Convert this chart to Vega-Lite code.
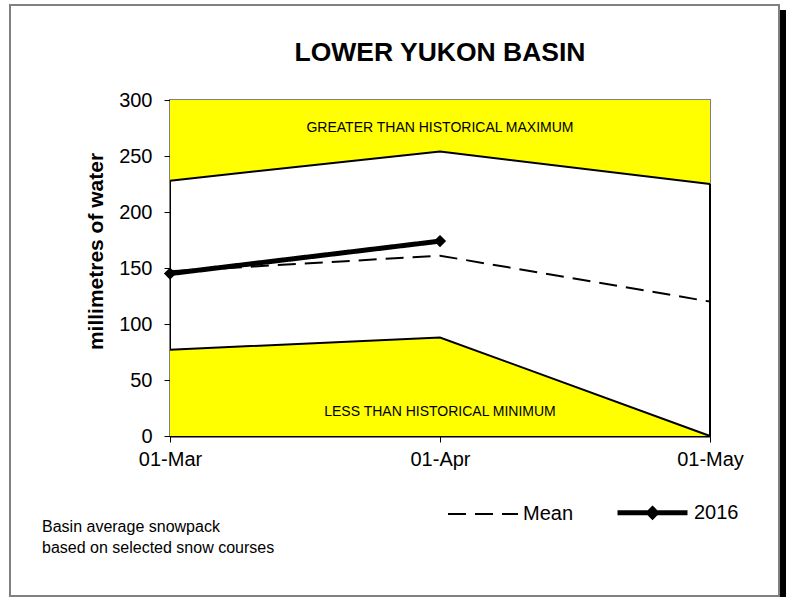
{
  "$schema": "https://vega.github.io/schema/vega-lite/v6.json",
  "width": 540,
  "height": 336,
  "autosize": "none",
  "padding": {"left": 170, "top": 100, "right": 79, "bottom": 161},
  "background": "white",
  "config": {
    "font": "Liberation Sans",
    "view": {"stroke": "#808080", "strokeWidth": 2}
  },
  "title": {
    "text": "LOWER YUKON BASIN",
    "fontSize": 26.5,
    "fontWeight": "bold",
    "font": "Liberation Sans",
    "color": "black",
    "anchor": "middle",
    "offset": -62
  },
  "datasets": {
    "bands": [
      {"i": 0, "max": 228, "min": 77},
      {"i": 1, "max": 254, "min": 88},
      {"i": 2, "max": 225, "min": 0}
    ],
    "series": [
      {"i": 0, "series": "Mean", "value": 147},
      {"i": 1, "series": "Mean", "value": 161},
      {"i": 2, "series": "Mean", "value": 120},
      {"i": 0, "series": "2016", "value": 145},
      {"i": 1, "series": "2016", "value": 174}
    ],
    "labels": [
      {"i": 1, "v": 275, "text": "GREATER THAN HISTORICAL MAXIMUM"},
      {"i": 1, "v": 21, "text": "LESS THAN HISTORICAL MINIMUM"}
    ],
    "note": [
      {"i": -0.474, "v": -81, "text": "Basin average snowpack\nbased on selected snow courses"}
    ],
    "frame": [{"x1": -0.5926, "x2": 2.2556, "y1": 384.8, "y2": -142.9}],
    "shadow": [{"x1": 2.2593, "x2": 2.2815, "y1": 380.4, "y2": -150}]
  },
  "layer": [
    {
      "data": {"name": "bands"},
      "mark": {"type": "area", "color": "#FFFF00", "opacity": 1},
      "encoding": {
        "x": {
          "field": "i", "type": "quantitative",
          "scale": {"domain": [0, 2], "nice": false, "zero": false},
          "axis": {
            "values": [0, 1, 2],
            "labelExpr": "['01-Mar','01-Apr','01-May'][datum.value]",
            "title": null, "grid": false,
            "labelFontSize": 20, "labelColor": "black", "labelFont": "Liberation Sans",
            "labelPadding": 7, "tickSize": 6, "tickColor": "black",
            "domainColor": "black", "domainWidth": 2, "labelFlush": false
          }
        },
        "y": {
          "field": "max", "type": "quantitative",
          "scale": {"domain": [0, 300], "nice": false},
          "axis": {
            "values": [0, 50, 100, 150, 200, 250, 300],
            "title": "millimetres of water",
            "titleFontSize": 21, "titleFontWeight": "bold", "titleColor": "black", "titleFont": "Liberation Sans",
            "titlePadding": 12, "titleY": 151, "grid": false,
            "labelFontSize": 20, "labelColor": "black", "labelFont": "Liberation Sans",
            "labelPadding": 12, "tickSize": 6, "tickColor": "black", "domainColor": "black"
          }
        },
        "y2": {"datum": 300}
      }
    },
    {
      "data": {"name": "bands"},
      "mark": {"type": "area", "color": "#FFFF00", "opacity": 1},
      "encoding": {
        "x": {"field": "i", "type": "quantitative"},
        "y": {"field": "min", "type": "quantitative"},
        "y2": {"datum": 0}
      }
    },
    {
      "data": {"name": "bands"},
      "mark": {"type": "line", "color": "black", "strokeWidth": 2},
      "encoding": {
        "x": {"field": "i", "type": "quantitative"},
        "y": {"field": "max", "type": "quantitative"}
      }
    },
    {
      "data": {"name": "bands"},
      "mark": {"type": "line", "color": "black", "strokeWidth": 2},
      "encoding": {
        "x": {"field": "i", "type": "quantitative"},
        "y": {"field": "min", "type": "quantitative"}
      }
    },
    {
      "data": {"name": "bands"},
      "transform": [{"filter": "datum.i === 2"}],
      "mark": {"type": "rule", "color": "black", "strokeWidth": 2},
      "encoding": {
        "x": {"field": "i", "type": "quantitative"},
        "y": {"field": "max", "type": "quantitative"},
        "y2": {"datum": 0}
      }
    },
    {
      "data": {"name": "labels"},
      "mark": {"type": "text", "fontSize": 14, "font": "Liberation Sans", "color": "black", "align": "center", "baseline": "middle"},
      "encoding": {
        "x": {"field": "i", "type": "quantitative"},
        "y": {"field": "v", "type": "quantitative"},
        "text": {"field": "text"}
      }
    },
    {
      "data": {"name": "note"},
      "mark": {"type": "text", "fontSize": 16, "font": "Liberation Sans", "color": "black", "align": "left", "baseline": "middle", "lineBreak": "\n", "lineHeight": 21},
      "encoding": {
        "x": {"field": "i", "type": "quantitative"},
        "y": {"field": "v", "type": "quantitative"},
        "text": {"field": "text"}
      }
    },
    {
      "data": {"name": "series"},
      "mark": {"type": "line", "color": "black"},
      "encoding": {
        "x": {"field": "i", "type": "quantitative"},
        "y": {"field": "value", "type": "quantitative"},
        "strokeDash": {
          "field": "series", "type": "nominal",
          "scale": {"domain": ["Mean", "2016"], "range": [[18, 9], [1, 0]]},
          "legend": {
            "title": null,
            "orient": "none",
            "direction": "horizontal",
            "legendX": 277,
            "legendY": 375,
            "labelFontSize": 20,
            "labelFont": "Liberation Sans",
            "labelColor": "black",
            "labelOffset": 4,
            "columnPadding": 33,
            "symbolSize": 4900,
            "symbolStrokeColor": "black",
            "symbolStrokeWidth": 2,
            "encode": {
              "symbols": {
                "update": {
                  "shape": {"signal": "datum.value === '2016' ? 'M-1,0H1M-0.11,0L0,-0.11L0.11,0L0,0.11Z' : 'M-1,0H1'"},
                  "strokeWidth": {"signal": "datum.value === '2016' ? 5 : 2"},
                  "strokeDash": {"signal": "datum.value === '2016' ? [1,0] : [18,9]"},
                  "fill": {"signal": "datum.value === '2016' ? 'black' : 'transparent'"},
                  "fillOpacity": {"value": 1},
                  "stroke": {"value": "black"}
                }
              }
            }
          }
        },
        "strokeWidth": {
          "field": "series", "type": "nominal",
          "scale": {"domain": ["Mean", "2016"], "range": [2, 5]},
          "legend": null
        }
      }
    },
    {
      "data": {"name": "series"},
      "transform": [{"filter": "datum.series === '2016'"}],
      "mark": {"type": "point", "shape": "diamond", "filled": true, "color": "black", "size": 150, "opacity": 1},
      "encoding": {
        "x": {"field": "i", "type": "quantitative"},
        "y": {"field": "value", "type": "quantitative"}
      }
    },
    {
      "data": {"name": "frame"},
      "mark": {"type": "rect", "fill": null, "fillOpacity": 0, "stroke": "#808080", "strokeWidth": 2},
      "encoding": {
        "x": {"field": "x1", "type": "quantitative"},
        "x2": {"field": "x2"},
        "y": {"field": "y1", "type": "quantitative"},
        "y2": {"field": "y2"}
      }
    },
    {
      "data": {"name": "shadow"},
      "mark": {"type": "rect", "fill": "black"},
      "encoding": {
        "x": {"field": "x1", "type": "quantitative"},
        "x2": {"field": "x2"},
        "y": {"field": "y1", "type": "quantitative"},
        "y2": {"field": "y2"}
      }
    }
  ]
}
